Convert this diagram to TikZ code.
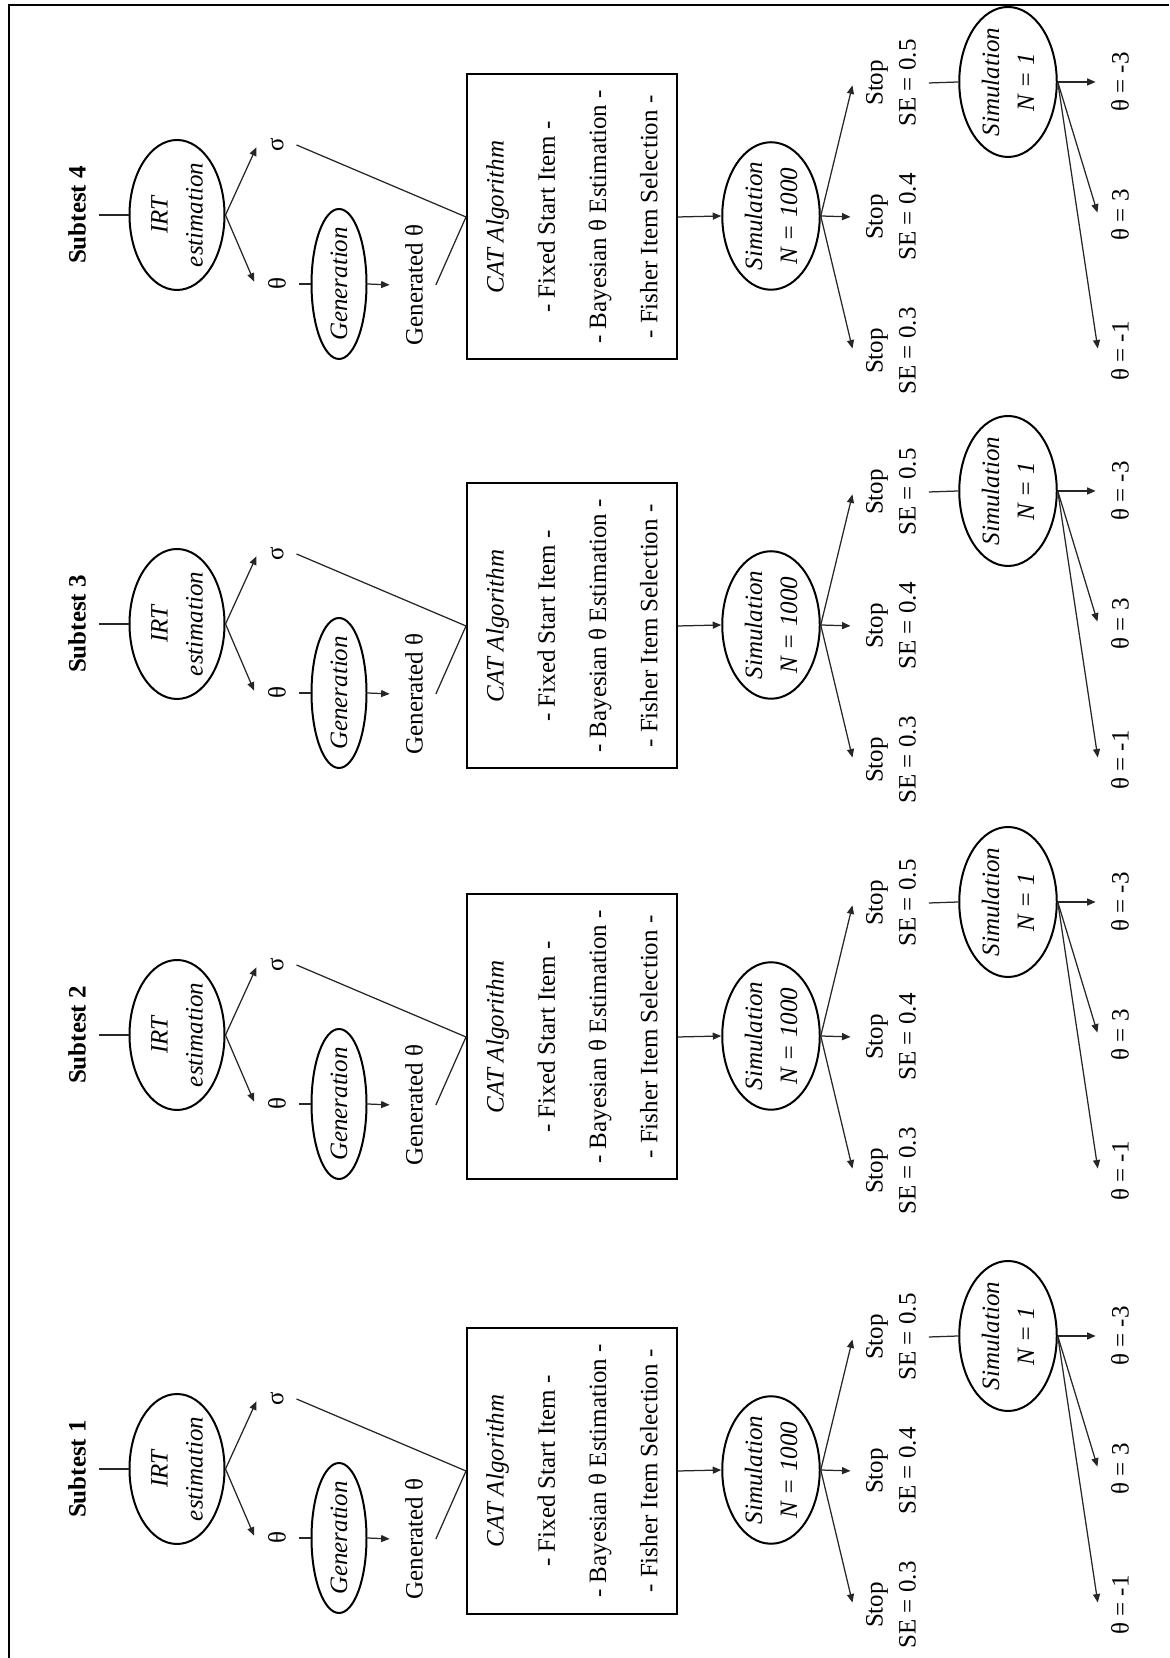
\documentclass[tikz,border=0pt]{standalone}
\usepackage{fontspec}
\setmainfont{Liberation Serif}
\usetikzlibrary{arrows.meta, shapes.geometric}

\begin{document}
\begin{tikzpicture}[
  x=0.4pt, y=0.4pt,
  oval/.style={ellipse, draw, line width=0.8pt, inner sep=0pt, align=center,
               font=\itshape\fontsize{10}{14}\selectfont},
  algbox/.style={rectangle, draw, line width=0.8pt, align=center,
                 minimum width=114pt, minimum height=84pt,
                 font=\fontsize{10}{20.5}\selectfont},
  lbl/.style={inner sep=5pt, align=center, font=\fontsize{10}{13.2}\selectfont},
  title/.style={inner sep=5pt, font=\bfseries},
  link/.style={line width=0.5pt, black!85},
  arrow/.style={link, -{Triangle[length=3.4pt, width=2.8pt]}},
  arrowlbl/.style={arrow, shorten >=1pt},
]

\useasboundingbox (0,0) rectangle (1169,1658);

\begin{scope}[rotate=90, transform shape]
\foreach \k/\uc in {1/189, 2/623, 3/1034, 4/1443} {
  \node[title] (sub\k) at (\uc, -77) {Subtest \k};
  \node[oval, minimum width=60pt, minimum height=38pt] (irt\k) at (\uc, -177) {IRT\\estimation};
  \node[lbl] (th\k) at ({\uc-69}, -277) {θ};
  \node[lbl] (sig\k) at ({\uc+70}, -277) {σ};
  \node[oval, inner xsep=-2.5pt, minimum width=60pt, minimum height=22pt] (gen\k) at ({\uc-69}, -339) {Generation};
  \node[lbl] (gth\k) at ({\uc-70}, -414) {Generated θ};
  \node[algbox] (cat\k) at ({\uc-2}, -572)
    {\textit{CAT Algorithm}\\- Fixed Start Item -\\- Bayesian θ Estimation -\\- Fisher Item Selection -};
  \node[oval, inner xsep=-1pt, minimum width=59pt, minimum height=39pt] (sim\k) at ({\uc-1}, -771) {Simulation\\N = 1000};
  \node[lbl] (stA\k) at ({\uc-136}, -891) {Stop\\SE = 0.3};
  \node[lbl] (stB\k) at ({\uc-2}, -891) {Stop\\SE = 0.4};
  \node[lbl] (stC\k) at ({\uc+132}, -891) {Stop\\SE = 0.5};
  \node[oval, inner xsep=-1pt, minimum width=60pt, minimum height=39pt] (one\k) at ({\uc+133}, -1008) {Simulation\\N = 1};
  \node[lbl] (thA\k) at ({\uc-136}, -1120) {θ = -1};
  \node[lbl] (thB\k) at (\uc, -1120) {θ = 3};
  \node[lbl] (thC\k) at ({\uc+133}, -1120) {θ = -3};

  \draw[link] (sub\k.south) -- (irt\k.north);
  \draw[arrowlbl] (irt\k.south) -- (th\k.north);
  \draw[arrowlbl] (irt\k.south) -- (sig\k.north);
  \draw[link] (th\k.south) -- (gen\k.north);
  \draw[arrowlbl] (gen\k.south) -- (gth\k.north);
  \draw[link] (gth\k.south) -- (cat\k.north);
  \draw[link] (sig\k.south) -- (cat\k.north);
  \draw[arrow] (cat\k.south) -- (sim\k.north);
  \draw[arrowlbl] (sim\k.south) -- (stA\k.north);
  \draw[arrowlbl] (sim\k.south) -- (stB\k.north);
  \draw[arrowlbl] (sim\k.south) -- (stC\k.north);
  \draw[link] (stC\k.south) -- (one\k.north);
  \draw[arrowlbl] (one\k.south) -- (thA\k.north);
  \draw[arrowlbl] (one\k.south) -- (thB\k.north);
  \draw[arrowlbl] (one\k.south) -- (thC\k.north);
}
\end{scope}

\draw[line width=0.9pt] (9,0) -- (9,1653) -- (1169,1653);

\end{tikzpicture}
\end{document}
